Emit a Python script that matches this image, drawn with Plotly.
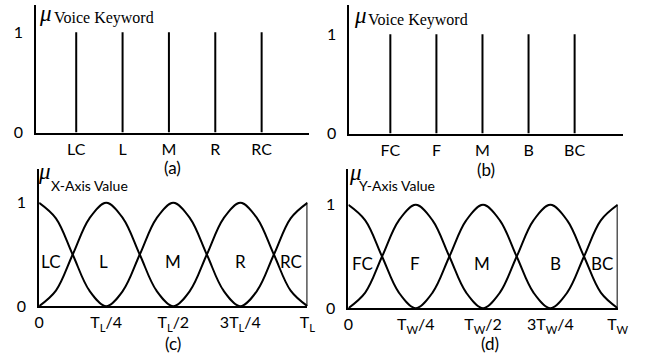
import plotly.graph_objects as go

W, H = 655, 362
SANS = "Lato"
SERIF = "Liberation Serif"

# ---- singleton keyword memberships, panels (a) and (b)
lr_terms = ["LC", "L", "M", "R", "RC"]
lr_pos = [1, 2, 3, 4, 5]
lr_mu = [1, 1, 1, 1, 1]

fb_terms = ["FC", "F", "M", "B", "BC"]
fb_pos = [1, 2, 3, 4, 5]
fb_mu = [1, 1, 1, 1, 1]

# ---- continuous memberships, panels (c) and (d); x in units of T, sampled every T/16
t_frac = [0, 0.0625, 0.125, 0.1875, 0.25, 0.3125, 0.375, 0.4375, 0.5,
          0.5625, 0.625, 0.6875, 0.75, 0.8125, 0.875, 0.9375, 1.0]
mu_edge = [1, 0.85, 0.5, 0.15, 0, 0.15, 0.5, 0.85, 1,
           0.85, 0.5, 0.15, 0, 0.15, 0.5, 0.85, 1]
mu_mid = [0, 0.15, 0.5, 0.85, 1, 0.85, 0.5, 0.15, 0,
          0.15, 0.5, 0.85, 1, 0.85, 0.5, 0.15, 0]

tick_frac = [0, 0.25, 0.5, 0.75, 1]
ticks_c = ["0", "T<sub>L</sub>/4", "T<sub>L</sub>/2", "3T<sub>L</sub>/4", "T<sub>L</sub>"]
ticks_d = ["0", "T<sub>W</sub>/4", "T<sub>W</sub>/2", "3T<sub>W</sub>/4", "T<sub>W</sub>"]

lr_label_x = [0.044, 0.24, 0.5, 0.75, 0.94]
fb_label_x = [0.054, 0.246, 0.496, 0.768, 0.94]
region_label_y = 0.43


def px(xp):
    return xp / W


def py(yp):
    return 1 - yp / H


fig = go.Figure()


def spikes(pos, mu, ax):
    xs, ys = [], []
    for p, m in zip(pos, mu):
        xs += [p, p, None]
        ys += [0, m, None]
    fig.add_trace(go.Scatter(x=xs, y=ys, mode="lines", xaxis="x" + ax, yaxis="y" + ax,
                             line=dict(color="black", width=2), hoverinfo="skip",
                             showlegend=False))


def curves(ax):
    for mu in (mu_edge, mu_mid):
        fig.add_trace(go.Scatter(x=t_frac, y=mu, mode="lines", xaxis="x" + ax, yaxis="y" + ax,
                                 line=dict(color="black", width=2, shape="spline"),
                                 cliponaxis=False, hoverinfo="skip", showlegend=False))
    # closing boundary at x = T
    fig.add_trace(go.Scatter(x=[t_frac[-1], t_frac[-1]], y=[mu_mid[-1], mu_edge[-1]],
                             mode="lines", xaxis="x" + ax, yaxis="y" + ax,
                             line=dict(color="black", width=2), cliponaxis=False,
                             hoverinfo="skip", showlegend=False))


spikes(lr_pos, lr_mu, "")
spikes(fb_pos, fb_mu, "2")
curves("3")
curves("4")

tickfont = dict(family=SANS, size=16, color="black")
line_style = dict(showline=True, linecolor="black", linewidth=2, showgrid=False,
                  zeroline=False, ticks="", tickfont=tickfont)

panels = {
    "": dict(xd=(32, 312), yd=(5, 136), xr=[0.137, 6.03], yr=[0, 1.272],
             tv=lr_pos, tt=lr_terms),
    "2": dict(xd=(353, 633), yd=(5, 137), xr=[0.111, 6.04], yr=[0, 1.294],
              tv=fb_pos, tt=fb_terms),
    "3": dict(xd=(35, 310), yd=(173, 314), xr=[0, 1], yr=[0, 1.33],
              tv=tick_frac, tt=ticks_c),
    "4": dict(xd=(352, 628), yd=(173, 316), xr=[0, 1], yr=[0, 1.35],
              tv=tick_frac, tt=ticks_d),
}

layout_axes = {}
for ax, p in panels.items():
    layout_axes["xaxis" + ax] = dict(line_style, domain=[px(p["xd"][0]), px(p["xd"][1])],
                                     range=p["xr"], anchor="y" + ax,
                                     tickvals=p["tv"], ticktext=p["tt"],
                                     ticklabelstandoff=1)
    layout_axes["yaxis" + ax] = dict(line_style, domain=[py(p["yd"][1]), py(p["yd"][0])],
                                     range=p["yr"], anchor="x" + ax,
                                     tickvals=[0, 1], ticktext=["0", "1"],
                                     ticklabelstandoff=8)

annotations = []

# region labels inside the continuous panels
for ax, xs, terms in (("3", lr_label_x, lr_terms), ("4", fb_label_x, fb_terms)):
    for x, t in zip(xs, terms):
        annotations.append(dict(x=x, y=region_label_y, xref="x" + ax, yref="y" + ax,
                                text=t, showarrow=False, xanchor="center", yanchor="middle",
                                font=dict(family=SANS, size=17, color="black")))

# panel captions
for text, cx, cy in (("(a)", 172, 172), ("(b)", 493, 174), ("(c)", 172, 352), ("(d)", 497, 352)):
    annotations.append(dict(x=px(cx), y=py(cy), xref="paper", yref="paper", text=text,
                            xanchor="center", yanchor="middle", showarrow=False,
                            font=dict(family=SANS, size=17, color="black")))

# membership symbols with their subscripts
mu_font = dict(family=SERIF, size=23, color="black")
for mx, my, sx, sy, sub, fam, size in (
        (42, 14, 48, 18, "Voice Keyword", SERIF, 16),
        (364, 16, 370, 20, "Voice Keyword", SERIF, 16),
        (41, 176, 45, 190, "X-Axis Value", SANS, 14),
        (359, 177, 361, 190, "Y-Axis Value", SANS, 14)):
    annotations.append(dict(x=px(mx), y=py(my), xref="paper", yref="paper",
                            text="<i>μ</i>", showarrow=False,
                            xanchor="center", yanchor="middle", font=mu_font))
    annotations.append(dict(x=px(sx), y=py(sy), xref="paper", yref="paper", text=sub,
                            xanchor="left", yanchor="middle", showarrow=False,
                            font=dict(family=fam, size=size, color="black")))

fig.update_layout(width=W, height=H, margin=dict(l=0, r=0, t=0, b=0),
                  paper_bgcolor="white", plot_bgcolor="white",
                  annotations=annotations, **layout_axes)

fig.write_html("out.html")
